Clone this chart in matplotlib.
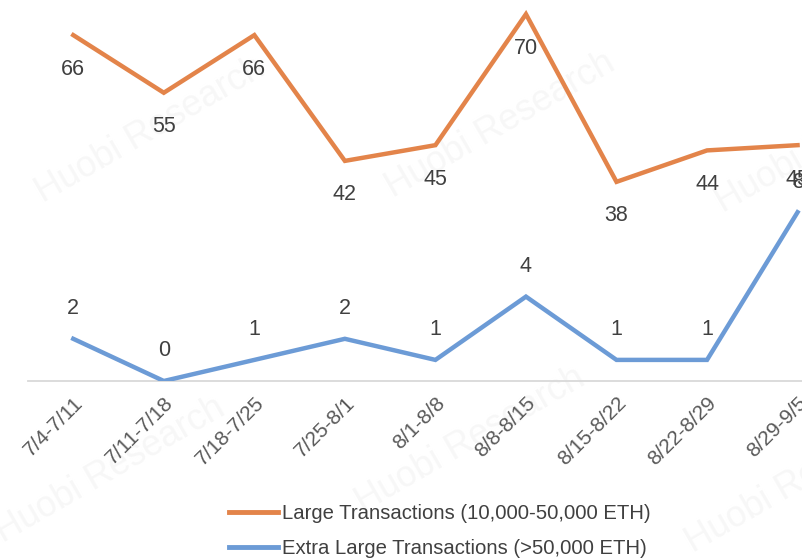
import matplotlib.pyplot as plt

weeks = ['7/4-7/11', '7/11-7/18', '7/18-7/25', '7/25-8/1', '8/1-8/8',
         '8/8-8/15', '8/15-8/22', '8/22-8/29', '8/29-9/5']
large = [66, 55, 66, 42, 45, 70, 38, 44, 45]
extra_large = [2, 0, 1, 2, 1, 4, 1, 1, 8]

plt.rcParams['font.family'] = ['Liberation Sans', 'DejaVu Sans']

orange = '#E3844A'
blue = '#6C9BD6'

fig = plt.figure(figsize=(8.03, 5.6), dpi=100)

# faint watermark behind everything
for (wx, wy) in [(150, 130), (500, 125), (830, 140), (110, 470), (470, 440), (800, 480)]:
    fig.text(wx / 803, 1 - wy / 560, 'Huobi Research', rotation=30, ha='center',
             va='center', fontsize=26, color='#F7F7F7', zorder=-10)

ax = fig.add_axes([28 / 803, 179 / 560, 1 - 28 / 803, 381 / 560])
ax2 = ax.twinx()
ax.patch.set_alpha(0)
ax2.patch.set_alpha(0)

x = list(range(len(weeks)))
ax.plot(x, large, color=orange, lw=3.2, solid_joinstyle='miter')
ax2.plot(x, extra_large, color=blue, lw=3.2, solid_joinstyle='miter')

ax.set_xlim(-0.5, 8.06)
ax.set_ylim(0, 72.7)
ax2.set_ylim(0, 18.06)

for i, v in enumerate(large):
    ax.annotate(str(v), (i, v), xytext=(0, -34), textcoords='offset pixels',
                ha='center', va='center', fontsize=15.5, color='#404040')
for i, v in enumerate(extra_large):
    ax2.annotate(str(v), (i, v), xytext=(0, 30), textcoords='offset pixels',
                 ha='center', va='center', fontsize=15.5, color='#404040')

for a in (ax, ax2):
    for s in a.spines.values():
        s.set_visible(False)
    a.set_yticks([])
ax.spines['bottom'].set_visible(True)
ax.spines['bottom'].set_color('#D9D9D9')
ax.spines['bottom'].set_linewidth(1.3)

ax.set_xticks(x)
ax.set_xticklabels(weeks, rotation=45, ha='right', va='top',
                   rotation_mode='anchor', fontsize=15, color='#595959')
ax.tick_params(axis='x', length=0, pad=9)

h1, = ax.plot([], [], color=orange, lw=3.5)
h2, = ax.plot([], [], color=blue, lw=3.5)
fig.legend([h1, h2], ['Large Transactions (10,000-50,000 ETH)',
                      'Extra Large Transactions (>50,000 ETH)'],
           loc='center', bbox_to_anchor=(440 / 803, 1 - 531 / 560), frameon=False,
           fontsize=14.6, labelcolor='#404040', handlelength=2.4, handletextpad=0.2,
           labelspacing=0.8)

fig.savefig('out.png', dpi=100)
